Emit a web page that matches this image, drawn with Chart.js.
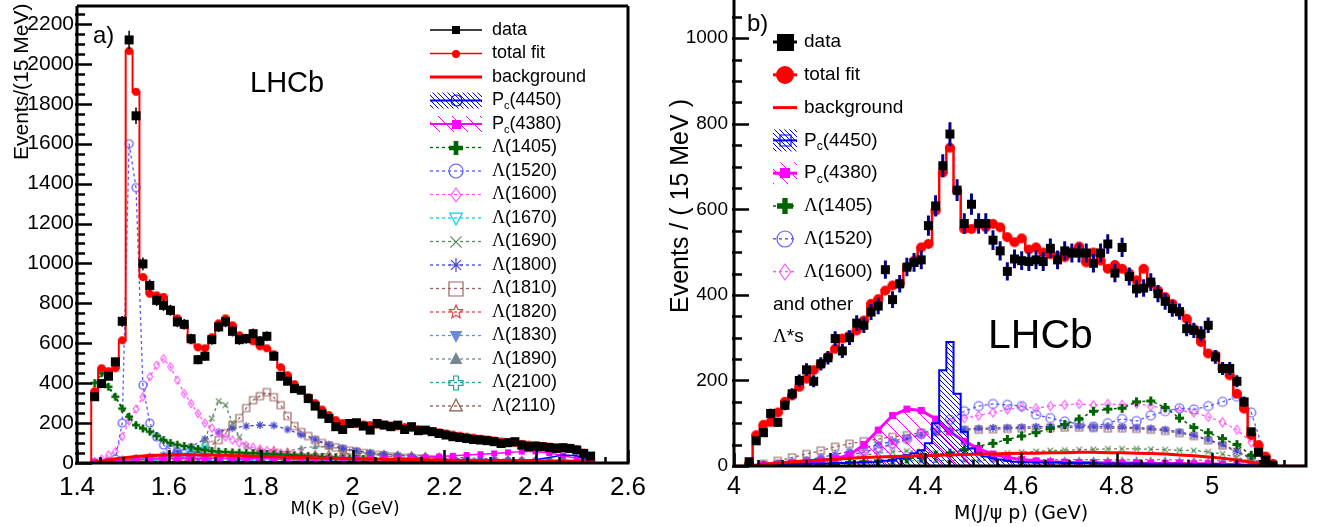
<!DOCTYPE html>
<html>
<head>
<meta charset="utf-8">
<script src="https://cdn.jsdelivr.net/npm/chart.js@4.4.1/dist/chart.umd.min.js"></script>
<style>
  html, body { margin: 0; padding: 0; background: #fff; }
  #wrap { position: relative; width: 1321px; height: 527px; overflow: hidden; background: #fff; }
  canvas { position: absolute; top: 0; }
  #cA { left: 0; }
  #cB { left: 660px; }
</style>
</head>
<body>
<div id="wrap">
  <canvas id="cA" width="660" height="527"></canvas>
  <canvas id="cB" width="661" height="527"></canvas>
</div>
<script>
// ---- binning (15 MeV bins) ----
const BIN = 0.015;
const kpFirst = 1.4385;   // first M(Kp) bin centre, GeV
const jpFirst = 4.0315;   // first M(J/psi p) bin centre, GeV

// ---- panel a) : M(Kp), one value per bin ----
const kpData = [332,398,435,507,710,2120,1740,998,890,815,
  790,765,707,695,623,518,535,618,682,707,
  660,618,623,648,612,635,535,435,410,373,
  365,323,285,245,223,182,168,198,202,185,
  165,198,190,182,190,168,182,162,165,157,
  148,140,132,128,123,118,115,112,107,98,
  102,107,90,82,85,82,78,73,77,73,
  65,48,35];
const kpFit = [360,475,460,475,615,2065,1860,932,848,840,
  832,770,725,690,615,580,575,630,700,725,
  690,640,625,610,585,575,545,480,440,395,
  365,330,300,268,240,215,200,195,195,193,
  190,192,192,188,184,180,175,170,165,160,
  154,148,142,137,132,127,122,118,113,108,
  104,100,96,92,88,85,82,80,78,76,
  70,52,32];
// components sampled every second bin (from bin 0)
const kpBkg   = [5,15,25,32,37,40,41,41,40,39,37,35,33,31,29,27,25,24,22,21,20,19,18,17,16,15,14,13,13,12,12,11,11,10,10,9,5];
const kpPc4450 = [2,3,3,4,4,5,5,5,6,6,6,6,6,6,6,6,6,6,6,6,6,6,7,7,7,7,8,8,9,10,11,13,16,28,40,36,10];
const kpPc4380 = [5,10,14,17,20,22,23,24,24,24,23,22,21,20,19,18,18,18,18,19,20,21,23,25,28,32,36,40,44,48,53,57,58,50,38,22,8];
const kpL1670 = [2,3,4,6,10,16,30,65,78,45,22,13,9,7,6,5,4,4,3,3,3,3,2,2,2,2,2,2,2,1,1,1,1,1,1,1,1];
const kpL1800 = [8,12,18,25,32,40,55,82,120,155,175,185,190,188,168,142,118,92,75,62,52,44,38,33,29,25,22,19,17,15,13,12,11,10,8,6,3];
const kpL1820 = [2,3,4,5,6,8,10,12,16,22,30,42,58,62,52,40,30,23,18,15,12,10,9,8,7,6,6,5,5,4,4,4,3,3,2,2,1];
const kpL1830 = [1,2,3,4,5,6,7,9,11,14,18,24,32,38,36,30,24,19,15,12,10,9,8,7,6,6,5,5,4,4,4,3,3,3,2,2,1];
const kpL1890 = [0,1,2,3,4,5,6,8,10,12,15,22,32,45,60,75,82,80,70,58,46,36,28,22,18,15,13,11,10,9,8,7,6,5,4,3,1];
const kpL2100 = [1,1,2,2,3,3,4,5,6,7,8,9,10,12,13,15,16,18,19,20,20,20,19,18,17,15,14,12,11,10,9,8,7,6,5,3,1];
const kpL2110 = [2,4,6,8,10,12,14,16,18,20,22,25,28,32,36,40,44,46,47,47,46,44,41,38,35,32,29,26,23,20,18,15,12,10,8,5,2];
// components with one value per bin, starting at the given bin
const kpL1405 = [400,450,382,332,273,232,190,173,157,135,115,100,92,85,78,70,65,60,57,55,53,52,50,49,48,46,44,42,40,38,36,34,32,30,28,26,24,22,21,20,19];
const kpL1405From = 0;
const kpL1520 = [0,20,200,1600,1380,390,200,130,90,70,57,47,40,35,31,28,25,23,21,19,18,17,16];
const kpL1520From = 2;
const kpL1600 = [5,20,40,57,132,210,270,332,432,490,523,482,415,348,298,248,200,175,150,130,115,100,88,78,70,62,55,50,45,40,36,33,30,28,26,24,22,20,19,18,17];
const kpL1600From = 0;
const kpL1690 = [10,14,18,21,24,27,30,32,35,40,48,65,110,223,310,290,200,130,85,60,47,40,35,31,28,25,22,20,18,16,15,14,13];
const kpL1690From = 4;
const kpL1810 = [5,7,9,11,13,15,17,18,20,22,25,28,30,40,60,90,115,150,190,225,275,315,335,355,330,290,235,185,155,135,115,100,88,78,70,62,56,50,45,40,36,32,29,26,24,22,20,18,16];
const kpL1810From = 2;

// ---- panel b) : M(J/psi p), one value per bin ----
const jpData = [10,59,78,123,102,142,169,200,225,198,
  239,253,298,269,300,334,329,360,374,459,
  389,426,465,476,482,562,608,702,776,645,
  567,612,567,567,528,503,455,484,480,478,
  482,478,509,482,503,498,498,498,474,498,
  519,451,511,443,414,416,430,403,385,368,
  361,321,317,309,329,255,228,228,198,150,
  80,32,14,2];
const jpFit = [5,72,96,103,125,150,165,185,204,224,
  238,255,274,298,305,317,340,379,390,410,
  422,426,465,480,511,519,597,686,744,643,
  554,554,565,558,566,558,535,523,532,506,
  511,499,495,490,488,500,513,476,499,480,
  461,470,461,450,434,461,426,410,395,379,
  360,344,320,290,263,259,228,212,169,134,
  72,49,22,5];
const jpPc4450 = [0,2,3,3,4,4,5,5,5,6,6,6,7,7,8,8,9,9,
  10,12,14,18,25,30,37,53,100,224,290,169,80,41,30,22,18,15,12,10,
  9,9,8,8,8,8,7,7,7,7,7,6,6,6,6,6,6,5,5,5,5,5,5,4,4,4,4,4,3,3,3,2,2,1,1,0];
// components sampled every second bin (from bin 0)
const jpBkg   = [0,4,7,10,12,14,16,18,20,21,22,23,24,25,26,27,28,28,29,30,30,31,31,32,32,31,31,30,29,28,26,24,21,18,14,9,3];
const jpPc4380 = [0,2,4,6,9,12,17,26,50,84,118,133,130,110,80,58,40,28,20,15,12,10,9,8,8,7,7,7,6,6,6,5,5,4,3,2,0];
const jpL1405 = [0,1,2,3,4,5,6,8,10,12,14,17,20,25,30,38,46,53,62,70,78,88,97,110,128,133,135,150,152,137,112,90,78,64,50,25,3];
const jpL1520 = [0,1,3,6,9,13,18,25,33,42,52,63,75,90,108,128,140,145,143,140,120,112,104,98,92,100,110,105,118,128,135,132,140,150,162,125,20];
const jpL1600 = [0,2,4,7,10,14,19,25,32,40,50,62,75,90,102,112,118,125,132,138,135,140,143,145,142,145,143,146,140,135,130,125,115,102,85,55,8];
const jpL1690 = [0,2,4,6,9,12,16,20,25,30,33,35,34,30,27,26,27,28,30,32,34,36,37,38,39,40,40,40,39,38,37,36,33,28,20,10,1];
const jpL1800 = [0,2,5,9,14,20,27,34,42,50,58,65,72,78,82,86,88,89,90,91,92,92,93,93,92,92,91,90,88,85,80,72,62,50,35,18,2];
const jpL1810 = [0,5,12,20,28,36,45,52,58,63,68,72,78,80,82,84,85,86,87,88,88,89,90,90,89,88,88,87,85,82,77,70,60,48,33,17,2];
const jpL1890 = [0,2,3,4,5,6,7,8,9,10,11,12,12,13,13,14,14,14,15,15,15,15,15,15,15,15,15,15,15,15,14,14,13,12,10,7,2];

// ---- helpers ----
function series(first, vals, from = 0, step = 1) {
  return vals.map((v, i) => ({ x: +(first + BIN * (from + i * step)).toFixed(4), y: v }));
}
// histogram outline: points at the low edge of each bin (used with stepped: true)
function histo(first, vals, lo, hi) {
  const out = [{ x: lo, y: 0 }];
  vals.forEach((v, i) => out.push({ x: first + BIN * (i - 0.5), y: v }));
  out.push({ x: first + BIN * (vals.length - 0.5), y: 0 }, { x: hi, y: 0 });
  return out;
}

function marker(shape, size, color, fill, lw) {
  lw = lw || 1.2;
  const c = document.createElement('canvas');
  const pad = Math.ceil(lw) + 1;
  c.width = c.height = Math.ceil(size + pad * 2);
  const g = c.getContext('2d');
  const r = size / 2;
  g.translate(c.width / 2, c.height / 2);
  g.strokeStyle = color; g.fillStyle = color; g.lineWidth = lw;
  g.beginPath();
  if (shape === 'square') g.rect(-r, -r, size, size);
  else if (shape === 'circle') g.arc(0, 0, r, 0, Math.PI * 2);
  else if (shape === 'diamond') { g.moveTo(0, -r); g.lineTo(r * 0.7, 0); g.lineTo(0, r); g.lineTo(-r * 0.7, 0); g.closePath(); }
  else if (shape === 'tri') { g.moveTo(0, -r); g.lineTo(r * 0.9, r * 0.7); g.lineTo(-r * 0.9, r * 0.7); g.closePath(); }
  else if (shape === 'tridown') { g.moveTo(0, r); g.lineTo(r * 0.9, -r * 0.7); g.lineTo(-r * 0.9, -r * 0.7); g.closePath(); }
  else if (shape === 'x') { const q = r * 0.8; g.moveTo(-q, -q); g.lineTo(q, q); g.moveTo(q, -q); g.lineTo(-q, q); }
  else if (shape === 'ast') {
    for (let k = 0; k < 4; k++) { const a = k * Math.PI / 4; g.moveTo(-r * Math.cos(a), -r * Math.sin(a)); g.lineTo(r * Math.cos(a), r * Math.sin(a)); }
  }
  else if (shape === 'plus') {
    const t = r / 3;
    const p = [[-t,-r],[t,-r],[t,-t],[r,-t],[r,t],[t,t],[t,r],[-t,r],[-t,t],[-r,t],[-r,-t],[-t,-t]];
    p.forEach((q, i) => i ? g.lineTo(q[0], q[1]) : g.moveTo(q[0], q[1])); g.closePath();
  }
  else if (shape === 'star5') {
    for (let k = 0; k < 10; k++) { const rr = k % 2 ? r * 0.45 : r; const a = -Math.PI / 2 + k * Math.PI / 5; k ? g.lineTo(rr * Math.cos(a), rr * Math.sin(a)) : g.moveTo(rr * Math.cos(a), rr * Math.sin(a)); }
    g.closePath();
  }
  if (fill) g.fill(); else g.stroke();
  return c;
}

function hatch(color, gap, lw) {
  const c = document.createElement('canvas');
  c.width = c.height = gap;
  const g = c.getContext('2d');
  g.strokeStyle = color; g.lineWidth = lw;
  g.beginPath();
  g.moveTo(-1, -1); g.lineTo(gap + 1, gap + 1);
  g.moveTo(-1, gap - 1); g.lineTo(1, gap + 1);
  g.moveTo(gap - 1, -1); g.lineTo(gap + 1, 1);
  g.stroke();
  return g.createPattern(c, 'repeat');
}

const look = {
  l1405: { color: '#006400', shape: 'plus', fill: true },
  l1520: { color: '#5a5aff', shape: 'circle' },
  l1600: { color: '#ff5aff', shape: 'diamond' },
  l1670: { color: '#00d4e4', shape: 'tridown' },
  l1690: { color: '#5a8a5a', shape: 'x' },
  l1800: { color: '#4646d0', shape: 'ast' },
  l1810: { color: '#9a6464', shape: 'square' },
  l1820: { color: '#e04646', shape: 'star5' },
  l1830: { color: '#6a8ad8', shape: 'tridown', fill: true },
  l1890: { color: '#708890', shape: 'tri', fill: true },
  l2100: { color: '#2a9a9a', shape: 'plus' },
  l2110: { color: '#8a5a48', shape: 'tri' }
};
const img = (k, size) => marker(look[k].shape, size, look[k].color, look[k].fill);

const blueHatch = hatch('#0000ff', 5, 1);
const magHatch = hatch('#ff00ff', 14, 1);

function comp(data, key, size, extra) {
  return Object.assign({
    data, borderColor: look[key].color, backgroundColor: look[key].color,
    borderWidth: 1.3, borderDash: [3, 3], pointStyle: img(key, size), pointRadius: 3, fill: false
  }, extra || {});
}

// ---- label drawing (subscripts, Greek in serif) ----
function label(ctx, s, x, y, fs) {
  const sans = fs + 'px "Liberation Sans"';
  ctx.fillStyle = '#000';
  ctx.textBaseline = 'middle';
  ctx.textAlign = 'left';
  if (s.startsWith('Pc')) {
    ctx.font = sans; ctx.fillText('P', x, y);
    let w = ctx.measureText('P').width;
    ctx.font = Math.round(fs * 0.62) + 'px "Liberation Sans"'; ctx.fillText('c', x + w, y + fs * 0.32);
    w += ctx.measureText('c').width;
    ctx.font = sans; ctx.fillText(s.slice(2), x + w, y);
  } else if (s.startsWith('Λ')) {
    ctx.font = fs + 'px "Liberation Serif"'; ctx.fillText('Λ', x, y);
    const w = ctx.measureText('Λ').width;
    ctx.font = sans; ctx.fillText(s.slice(1), x + w, y);
  } else {
    ctx.font = sans; ctx.fillText(s, x, y);
  }
}

function legend(ctx, items, x0, x1, tx, y0, dy, fs) {
  items.forEach(([t, s], i) => {
    const y = y0 + dy * i;
    ctx.save();
    if (s.pat) { ctx.fillStyle = s.pat; ctx.fillRect(x0, y - s.h / 2, x1 - x0, s.h); }
    if (s.line) {
      ctx.strokeStyle = s.line; ctx.lineWidth = s.lw || 1.2; ctx.setLineDash(s.dash || []);
      ctx.beginPath(); ctx.moveTo(x0, y); ctx.lineTo(x1, y); ctx.stroke(); ctx.setLineDash([]);
    }
    if (s.img) ctx.drawImage(s.img, Math.round((x0 + x1) / 2 - s.img.width / 2), Math.round(y - s.img.height / 2));
    ctx.restore();
    label(ctx, t, tx, y, fs);
  });
}

// frame, ROOT-like inner ticks, error bars, texts
function rootLook(o) {
  return {
    id: 'rootLook',
    afterDatasetDraw(chart, args) {
      if (args.index !== 1) return;
      const { ctx, chartArea: a, scales: { x, y } } = chart;
      ctx.save();
      ctx.beginPath(); ctx.rect(a.left, a.top, a.width, a.height); ctx.clip();
      ctx.strokeStyle = o.errColor; ctx.lineWidth = o.errWidth;
      ctx.beginPath();
      chart.data.datasets[0].data.forEach(p => {
        const e = Math.sqrt(p.y), px = x.getPixelForValue(p.x);
        ctx.moveTo(px, y.getPixelForValue(p.y - e));
        ctx.lineTo(px, y.getPixelForValue(p.y + e));
      });
      ctx.stroke();
      ctx.restore();
    },
    afterDatasetsDraw(chart) {
      const { ctx, chartArea: a, scales: { x, y } } = chart;
      const top = o.topFrame ? a.top : 0;
      ctx.save();
      ctx.strokeStyle = '#000';
      ctx.lineWidth = 3;
      ctx.beginPath();
      if (o.topFrame) { ctx.moveTo(a.left, a.top); ctx.lineTo(a.right, a.top); }
      ctx.moveTo(a.left, top); ctx.lineTo(a.left, a.bottom); ctx.lineTo(a.right, a.bottom); ctx.lineTo(a.right, top);
      ctx.stroke();
      ctx.lineWidth = 2.5;
      ctx.beginPath();
      for (let v = 0; v <= y.max; v += 50) {
        const py = Math.round(y.getPixelForValue(v)) + 0.5;
        ctx.moveTo(a.left - 2, py); ctx.lineTo(a.left + (v % 200 === 0 ? 15 : 8), py);
      }
      for (let i = 0; ; i++) {
        const v = x.min + i * 0.05;
        if (v > x.max + 1e-9) break;
        const major = Math.abs(v * 5 - Math.round(v * 5)) < 1e-6;
        const px = Math.round(x.getPixelForValue(v)) + 0.5;
        ctx.moveTo(px, a.bottom); ctx.lineTo(px, a.bottom - (major ? 13 : 6));
      }
      ctx.stroke();
      ctx.restore();
    },
    afterDraw(chart) { o.decorate(chart.ctx); }
  };
}

function makeChart(id, o) {
  return new Chart(document.getElementById(id), {
    type: 'line',
    data: { datasets: o.datasets },
    options: {
      responsive: false, animation: false, devicePixelRatio: 1, events: [],
      layout: { padding: o.pad },
      elements: { line: { tension: 0 } },
      plugins: { legend: { display: false }, tooltip: { enabled: false } },
      scales: {
        x: {
          type: 'linear', min: o.xmin, max: o.xmax,
          afterFit: s => { s.height = o.xh; s.paddingLeft = 0; s.paddingRight = 0; },
          grid: { display: false, drawTicks: false }, border: { display: false },
          ticks: {
            stepSize: 0.2, includeBounds: false, autoSkip: false, maxRotation: 0, minRotation: 0,
            color: '#000', padding: o.xpad, font: { family: 'Liberation Sans', size: o.xfs },
            callback: v => String(+v.toFixed(1))
          }
        },
        y: {
          type: 'linear', min: 0, max: o.ymax,
          afterFit: s => { s.width = o.yw; s.paddingTop = 0; s.paddingBottom = 0; },
          grid: { display: false, drawTicks: false }, border: { display: false },
          ticks: {
            stepSize: 200, includeBounds: false, autoSkip: false,
            color: '#000', padding: o.ypad, font: { family: 'Liberation Sans', size: o.yfs },
            callback: v => String(v)
          }
        }
      }
    },
    plugins: [rootLook(o)]
  });
}

// ---- panel a) ----
makeChart('cA', {
  xmin: 1.4, xmax: 2.6, ymax: 2290,
  pad: { top: 5, right: 32, left: 0, bottom: 0 },
  xh: 64, yw: 77, xpad: 9, ypad: 3, xfs: 26, yfs: 21,
  topFrame: true, errColor: '#000', errWidth: 1.5,
  datasets: [
    { data: series(kpFirst, kpData), showLine: false, pointStyle: marker('square', 9, '#000', true), pointRadius: 3 },
    { data: series(kpFirst, kpFit), showLine: false, pointStyle: marker('circle', 8, '#ff0000', true), pointRadius: 3 },
    { data: histo(kpFirst, kpFit, 1.4, 2.6), stepped: true, borderColor: '#ff0000', borderWidth: 2, pointRadius: 0 },
    { data: series(kpFirst, kpBkg, 0, 2), borderColor: '#ff0000', borderWidth: 3, pointRadius: 0 },
    { data: series(kpFirst, kpPc4450, 0, 2), borderColor: '#0000ff', borderWidth: 1.5, pointRadius: 0 },
    { data: series(kpFirst, kpPc4380, 0, 2), borderColor: '#ff00ff', borderWidth: 1.5,
      pointStyle: marker('square', 6, '#ff00ff', true), pointRadius: 3 },
    comp(series(kpFirst, kpL1405, kpL1405From), 'l1405', 8, { borderWidth: 2 }),
    comp(series(kpFirst, kpL1520, kpL1520From), 'l1520', 8),
    comp(series(kpFirst, kpL1600, kpL1600From), 'l1600', 8),
    comp(series(kpFirst, kpL1670, 0, 2), 'l1670', 7),
    comp(series(kpFirst, kpL1690, kpL1690From), 'l1690', 7),
    comp(series(kpFirst, kpL1800, 0, 2), 'l1800', 8),
    comp(series(kpFirst, kpL1810, kpL1810From), 'l1810', 7),
    comp(series(kpFirst, kpL1820, 0, 2), 'l1820', 8),
    comp(series(kpFirst, kpL1830, 0, 2), 'l1830', 7),
    comp(series(kpFirst, kpL1890, 0, 2), 'l1890', 7),
    comp(series(kpFirst, kpL2100, 0, 2), 'l2100', 7),
    comp(series(kpFirst, kpL2110, 0, 2), 'l2110', 7)
  ],
  decorate(ctx) {
    ctx.save();
    ctx.fillStyle = '#000';
    ctx.save();
    ctx.translate(28, 160); ctx.rotate(-Math.PI / 2);
    ctx.font = '21px "Liberation Sans"'; ctx.textAlign = 'left'; ctx.textBaseline = 'alphabetic';
    ctx.fillText('Events/(15 MeV)', 0, 0);
    ctx.restore();
    ctx.textBaseline = 'alphabetic';
    ctx.font = '17px "DejaVu Sans"'; ctx.textAlign = 'center';
    ctx.fillText('M(K p) (GeV)', 345, 514);
    ctx.textAlign = 'left';
    ctx.font = '24px "Liberation Sans"'; ctx.fillText('a)', 93, 43);
    ctx.font = '29px "Liberation Sans"'; ctx.fillText('LHCb', 250, 92);
    ctx.restore();
    const L = (k) => ({ line: look[k].color, dash: [3, 3], lw: 1.3, img: img(k, 14) });
    legend(ctx, [
      ['data', { line: '#000', lw: 1.5, img: marker('square', 8, '#000', true) }],
      ['total fit', { line: '#ff0000', lw: 1.5, img: marker('circle', 8, '#ff0000', true) }],
      ['background', { line: '#ff0000', lw: 3 }],
      ['Pc(4450)', { pat: blueHatch, h: 16, line: '#0000ff', lw: 2, img: marker('circle', 11, '#0000ff', false) }],
      ['Pc(4380)', { pat: magHatch, h: 16, line: '#ff00ff', lw: 2, img: marker('square', 9, '#ff00ff', true) }],
      ['Λ(1405)', L('l1405')], ['Λ(1520)', L('l1520')], ['Λ(1600)', L('l1600')],
      ['Λ(1670)', L('l1670')], ['Λ(1690)', L('l1690')], ['Λ(1800)', L('l1800')],
      ['Λ(1810)', L('l1810')], ['Λ(1820)', L('l1820')], ['Λ(1830)', L('l1830')],
      ['Λ(1890)', L('l1890')], ['Λ(2100)', L('l2100')], ['Λ(2110)', L('l2110')]
    ], 430, 482, 492, 30, 23.5, 18);
  }
});

// ---- panel b) ----
makeChart('cB', {
  xmin: 4.0, xmax: 5.196, ymax: 1073,
  pad: { top: 0, right: 15, left: 0, bottom: 0 },
  xh: 61, yw: 74, xpad: 6, ypad: 6, xfs: 25, yfs: 19,
  topFrame: false, errColor: '#00008b', errWidth: 3,
  datasets: [
    { data: series(jpFirst, jpData), showLine: false, pointStyle: marker('square', 9, '#000', true), pointRadius: 3 },
    { data: series(jpFirst, jpFit), showLine: false, pointStyle: marker('circle', 10, '#ff0000', true), pointRadius: 3 },
    { data: histo(jpFirst, jpFit, 4.0, 5.196), stepped: true, borderColor: '#ff0000', borderWidth: 2.5, pointRadius: 0 },
    { data: series(jpFirst, jpBkg, 0, 2), borderColor: '#ff0000', borderWidth: 3, pointRadius: 0 },
    { data: histo(jpFirst, jpPc4450, 4.0, 5.196), stepped: true, borderColor: '#0000ff', borderWidth: 2,
      pointRadius: 0, fill: 'origin', backgroundColor: blueHatch },
    { data: series(jpFirst, jpPc4380, 0, 2), borderColor: '#ff00ff', borderWidth: 3,
      pointStyle: marker('square', 7, '#ff00ff', true), pointRadius: 3, fill: 'origin', backgroundColor: magHatch },
    comp(series(jpFirst, jpL1405, 0, 2), 'l1405', 9, { borderWidth: 1.5 }),
    comp(series(jpFirst, jpL1520, 0, 2), 'l1520', 9),
    comp(series(jpFirst, jpL1600, 0, 2), 'l1600', 9),
    comp(series(jpFirst, jpL1690, 0, 2), 'l1690', 7),
    comp(series(jpFirst, jpL1800, 0, 2), 'l1800', 8),
    comp(series(jpFirst, jpL1810, 0, 2), 'l1810', 7),
    comp(series(jpFirst, jpL1890, 0, 2), 'l1890', 7)
  ],
  decorate(ctx) {
    ctx.save();
    ctx.fillStyle = '#000';
    ctx.save();
    ctx.translate(28, 313); ctx.rotate(-Math.PI / 2);
    ctx.font = '25px "Liberation Sans"'; ctx.textAlign = 'left'; ctx.textBaseline = 'alphabetic';
    ctx.fillText('Events / ( 15 MeV )', 0, 0);
    ctx.restore();
    ctx.textBaseline = 'alphabetic';
    ctx.font = '19px "DejaVu Sans"'; ctx.textAlign = 'center';
    ctx.fillText('M(J/ψ p) (GeV)', 361, 519);
    ctx.textAlign = 'left';
    ctx.font = '24px "Liberation Sans"'; ctx.fillText('b)', 87, 31);
    ctx.font = '41px "Liberation Sans"'; ctx.fillText('LHCb', 328, 348);
    ctx.restore();
    const L = (k) => ({ line: look[k].color, dash: [3, 3], lw: 1.5, img: img(k, 16) });
    legend(ctx, [
      ['data', { line: '#000', lw: 3, img: marker('square', 17, '#000', true) }],
      ['total fit', { line: '#ff0000', lw: 3, img: marker('circle', 18, '#ff0000', true) }],
      ['background', { line: '#ff0000', lw: 3 }],
      ['Pc(4450)', { pat: blueHatch, h: 22, line: '#0000ff', lw: 2, img: marker('square', 11, '#0000ff', false) }],
      ['Pc(4380)', { pat: magHatch, h: 22, line: '#ff00ff', lw: 3, img: marker('square', 10, '#ff00ff', true) }],
      ['Λ(1405)', L('l1405')], ['Λ(1520)', L('l1520')], ['Λ(1600)', L('l1600')]
    ], 113, 137, 144, 42, 32.8, 19);
    label(ctx, 'and other', 113, 305, 19);
    label(ctx, 'Λ*s', 113, 337, 19);
  }
});
</script>
</body>
</html>
